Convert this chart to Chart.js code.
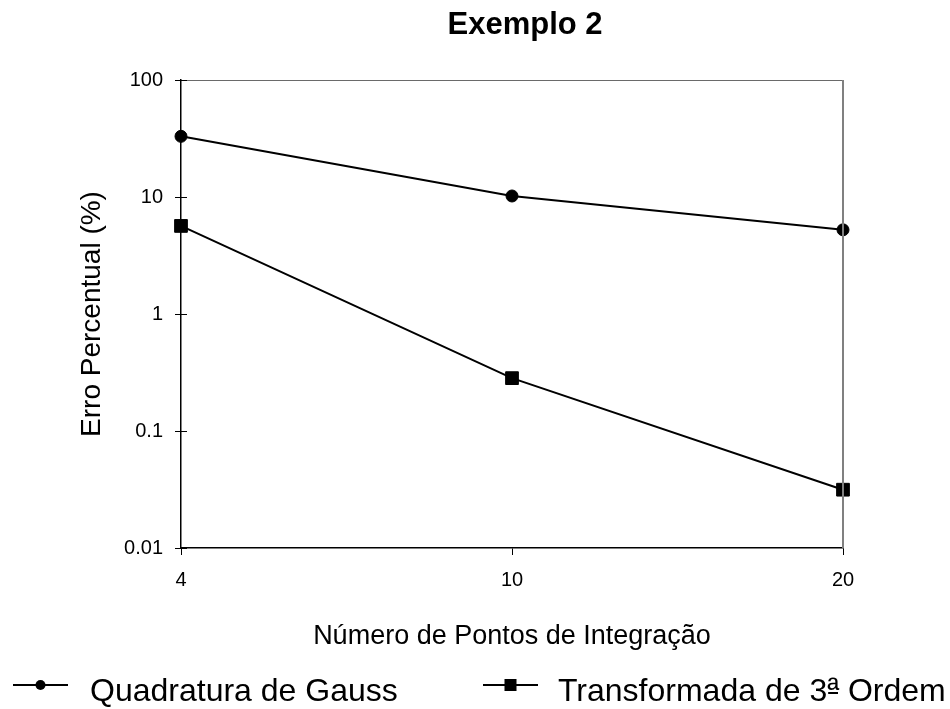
<!DOCTYPE html>
<html>
<head>
<meta charset="utf-8">
<title>Exemplo 2</title>
<script src="https://cdn.jsdelivr.net/npm/chart.js@4.4.1/dist/chart.umd.min.js"></script>
<style>
  html, body { margin: 0; padding: 0; background: #ffffff; }
  #wrap { width: 950px; height: 709px; position: relative; }
</style>
</head>
<body>
<div id="wrap"><canvas id="chart" width="950" height="709"></canvas></div>
<script>
// Number of integration points (x categories)
const categories = ['4', '10', '20'];
// Percentage error for each method
const gaussValues = [33.0, 10.2, 5.24];
const transformValues = [5.66, 0.283, 0.0315];
// Decade ticks on the logarithmic axis
const yTickValues = [0.01, 0.1, 1, 10, 100];

const seriesNames = ['Quadratura de Gauss', 'Transformada de 3\u00AA Ordem'];
const chartTitle = 'Exemplo 2';
const xTitle = 'N\u00FAmero de Pontos de Integra\u00E7\u00E3o';
const yTitle = 'Erro Percentual (%)';

const FONT = "'Liberation Sans', Arial, sans-serif";

// Heading centred over the plot frame
const headingPlugin = {
  id: 'heading',
  afterDraw(chart) {
    const ctx = chart.ctx;
    ctx.save();
    ctx.font = 'bold 31px ' + FONT;
    ctx.fillStyle = '#000';
    ctx.textAlign = 'center';
    ctx.textBaseline = 'alphabetic';
    ctx.fillText(chartTitle, 525, 34);
    ctx.restore();
  }
};

// Grey top/right frame plus inward-pointing tick stubs on the value axis
const framePlugin = {
  id: 'frame',
  afterDatasetsDraw(chart) {
    const {ctx, chartArea: a} = chart;
    const y = chart.scales.y;
    ctx.save();
    ctx.strokeStyle = '#6a6a6a';
    ctx.lineWidth = 1.2;
    ctx.beginPath();
    ctx.moveTo(a.left, a.top + 0.5);
    ctx.lineTo(a.right, a.top + 0.5);
    ctx.stroke();
    ctx.strokeStyle = '#808080';
    ctx.lineWidth = 2;
    ctx.beginPath();
    ctx.moveTo(a.right, a.top);
    ctx.lineTo(a.right, a.bottom);
    ctx.stroke();
    ctx.strokeStyle = '#000';
    ctx.lineWidth = 1;
    y.ticks.forEach(t => {
      const py = Math.round(y.getPixelForValue(t.value)) + 0.5;
      ctx.beginPath();
      ctx.moveTo(a.left, py);
      ctx.lineTo(a.left + 6, py);
      ctx.stroke();
    });
    ctx.restore();
  }
};

// Legend row below the axis title: line sample with marker, then the series name
const legendRowPlugin = {
  id: 'legendRow',
  afterDraw(chart) {
    const ctx = chart.ctx;
    const slots = [
      {lineX0: 13, lineX1: 68, textX: 90},
      {lineX0: 483, lineX1: 538, textX: 558}
    ];
    const cy = 685;
    const base = 701;
    const size = 32;
    ctx.save();
    chart.data.datasets.forEach((ds, i) => {
      const s = slots[i];
      ctx.strokeStyle = ds.borderColor;
      ctx.lineWidth = 2;
      ctx.beginPath();
      ctx.moveTo(s.lineX0, cy);
      ctx.lineTo(s.lineX1, cy);
      ctx.stroke();
      const mx = (s.lineX0 + s.lineX1) / 2;
      ctx.fillStyle = ds.pointBackgroundColor;
      if (ds.pointStyle === 'rect') {
        ctx.fillRect(mx - 6, cy - 6, 12, 12);
      } else {
        ctx.beginPath();
        ctx.arc(mx, cy, 5, 0, Math.PI * 2);
        ctx.fill();
      }
      ctx.fillStyle = '#000';
      ctx.strokeStyle = '#000';
      ctx.font = size + 'px ' + FONT;
      ctx.textAlign = 'left';
      ctx.textBaseline = 'alphabetic';
      // ordinal indicator gets its underline drawn beneath it
      const parts = ds.label.split('\u00AA');
      let x = s.textX;
      parts.forEach((p, k) => {
        ctx.fillText(p, x, base);
        x += ctx.measureText(p).width;
        if (k < parts.length - 1) {
          const w = ctx.measureText('\u00AA').width;
          ctx.fillText('\u00AA', x, base - 1);
          ctx.lineWidth = 2;
          ctx.beginPath();
          ctx.moveTo(x + 1, base - 8);
          ctx.lineTo(x + w - 1, base - 8);
          ctx.stroke();
          x += w;
        }
      });
    });
    ctx.restore();
  }
};

new Chart(document.getElementById('chart'), {
  type: 'line',
  data: {
    labels: categories,
    datasets: [
      {
        label: seriesNames[0],
        data: gaussValues,
        borderColor: '#000',
        backgroundColor: '#000',
        borderWidth: 2,
        pointStyle: 'circle',
        pointRadius: 6,
        pointBorderWidth: 1,
        pointBackgroundColor: '#000',
        pointBorderColor: '#000',
        tension: 0
      },
      {
        label: seriesNames[1],
        data: transformValues,
        borderColor: '#000',
        backgroundColor: '#000',
        borderWidth: 2,
        pointStyle: 'rect',
        pointRadius: 9,
        pointBorderWidth: 1,
        pointBackgroundColor: '#000',
        pointBorderColor: '#000',
        tension: 0
      }
    ]
  },
  options: {
    responsive: false,
    animation: false,
    layout: { padding: { left: 0, right: 107, top: 80, bottom: 50 } },
    plugins: {
      legend: { display: false },
      title: { display: false },
      tooltip: { enabled: false }
    },
    scales: {
      x: {
        type: 'category',
        offset: false,
        border: { display: true, color: '#000', width: 1.5 },
        grid: { display: true, drawOnChartArea: false, drawTicks: true, tickLength: 7, color: '#000', lineWidth: 1 },
        ticks: { color: '#000', font: { family: FONT, size: 20 }, padding: 13, maxRotation: 0 },
        title: { display: true, text: xTitle, color: '#000', font: { family: FONT, size: 27 }, padding: { top: 0, bottom: 6 } },
        afterFit(scale) { scale.height = 111; }
      },
      y: {
        type: 'logarithmic',
        min: 0.01,
        max: 100,
        border: { display: true, color: '#000', width: 1.5 },
        grid: { display: true, drawOnChartArea: false, drawTicks: true, tickLength: 6, color: '#000', lineWidth: 1 },
        afterBuildTicks(scale) {
          scale.ticks = yTickValues.map(v => ({ value: v }));
        },
        ticks: {
          color: '#000',
          font: { family: FONT, size: 20 },
          padding: 12,
          callback: (v) => String(v)
        },
        title: { display: true, text: yTitle, color: '#000', font: { family: FONT, size: 28 }, padding: { top: 75, bottom: 0 } },
        afterFit(scale) { scale.width = 181; }
      }
    }
  },
  plugins: [headingPlugin, framePlugin, legendRowPlugin]
});
</script>
</body>
</html>
